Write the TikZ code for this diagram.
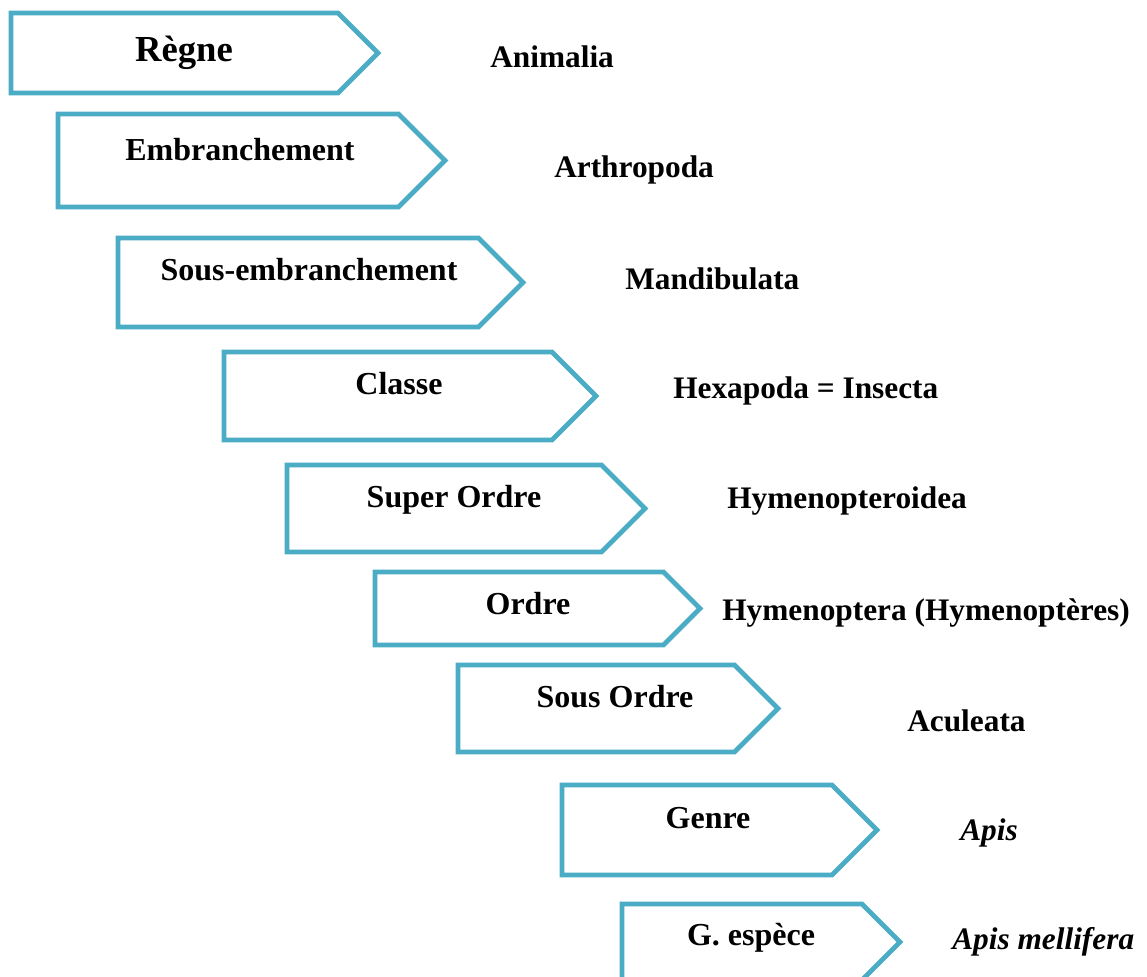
\documentclass[tikz,border=0pt]{standalone}
\usepackage{fontspec}
\setmainfont{Liberation Serif}
\usetikzlibrary{shapes.symbols}
\definecolor{cadre}{HTML}{4BACC6}
\def\px{0.75pt}
\tikzset{
  fleche/.style={signal, signal to=east, signal pointer angle=90, draw=cadre,
                 line width=3.6pt, fill=white, inner sep=0pt, outer sep=0pt, anchor=west},
  rang/.style  ={font=\fontsize{24}{28}\selectfont\bfseries, inner sep=0pt, anchor=base},
  taxon/.style ={font=\fontsize{23.5}{28}\selectfont\bfseries, inner sep=0pt, anchor=base west},
}
\begin{document}
\begin{tikzpicture}[x=\px, y=-\px]
\useasboundingbox (0,0) rectangle (1147,976);
\clip (0,0) rectangle (1147,976);

% cadres
\node[fleche, minimum width=367*\px, minimum height=80*\px] (f1) at (11,53) {};
\node[fleche, minimum width=387*\px, minimum height=93*\px] (f2) at (58,160.5) {};
\node[fleche, minimum width=405*\px, minimum height=89*\px] (f3) at (118,282.5) {};
\node[fleche, minimum width=372*\px, minimum height=88*\px] (f4) at (224,396) {};
\node[fleche, minimum width=358*\px, minimum height=87*\px] (f5) at (287,508.5) {};
\node[fleche, minimum width=325*\px, minimum height=73*\px] (f6) at (375,608.5) {};
\node[fleche, minimum width=320*\px, minimum height=87*\px] (f7) at (458,708.5) {};
\node[fleche, minimum width=315*\px, minimum height=90*\px] (f8) at (562,830) {};
\node[fleche, minimum width=278*\px, minimum height=76*\px] (f9) at (622,942) {};

% rangs
\node[rang, font=\fontsize{27.5}{32}\selectfont\bfseries] (regne) at (184,61) {Règne};
\node[rang] (embr) at (240,160) {Embranchement};
\node[rang] (sousembr) at (309,280) {Sous-embranchement};
\node[rang] (classe) at (399,394) {Classe};
\node[rang] (superordre) at (454,507) {Super Ordre};
\node[rang] (ordre) at (528,614) {Ordre};
\node[rang] (sousordre) at (615,707) {Sous Ordre};
\node[rang] (genre) at (708,828) {Genre};
\node[rang] (gespece) at (751,945) {G. espèce};

% taxons
\node[taxon] (animalia) at (490,67) {Animalia};
\node[taxon] (arthropoda) at (554,177) {Arthropoda};
\node[taxon] (mandibulata) at (625,289) {Mandibulata};
\node[taxon] (hexapoda) at (673,398) {Hexapoda = Insecta};
\node[taxon] (hymenopteroidea) at (727,508) {Hymenopteroidea};
\node[taxon] (hymenoptera) at (722,620) {Hymenoptera (Hymenoptères)};
\node[taxon] (aculeata) at (907,731) {Aculeata};
\node[taxon] (apis) at (960,840) {\itshape Apis};
\node[taxon] (mellifera) at (952,949) {\itshape Apis mellifera};
\end{tikzpicture}
\end{document}
